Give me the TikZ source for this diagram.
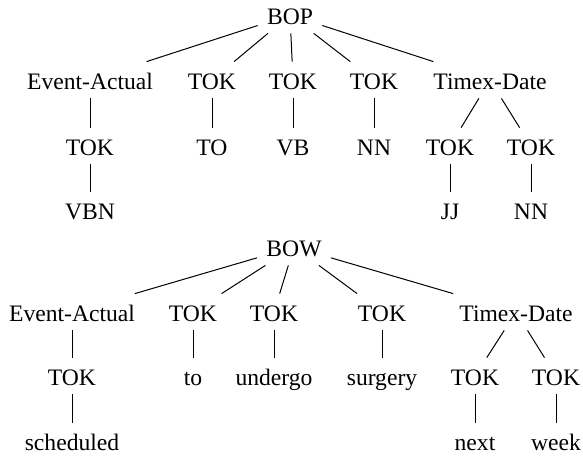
\documentclass[tikz,border=0pt]{standalone}
\usepackage{fontspec}
\setmainfont{Liberation Serif}
\newfontfamily\tagfont{Liberation Serif}
\usepackage{tikz}
\tikzset{
  tag/.style={font=\tagfont\fontsize{11.8}{13}\selectfont, inner sep=0pt, inner xsep=4.5pt,
    text height=13.5pt, text depth=4.5pt, anchor=base},
  branch/.style={line width=0.5pt, black},
}

\begin{document}
\begin{tikzpicture}[x=0.5pt, y=-0.5pt]
\useasboundingbox (0,0) rectangle (583,456);
% upper tree (parts of speech)
\node[tag] (bop) at (290,24) {BOP};
\node[tag] (ea1) at (90,89) {Event-Actual};
\node[tag] (tokA1) at (212,89) {TOK};
\node[tag] (tokB1) at (293,89) {TOK};
\node[tag] (tokC1) at (374,89) {TOK};
\node[tag] (tx1) at (490,89) {Timex-Date};
\node[tag] (eaTok1) at (90,155) {TOK};
\node[tag] (to1) at (212,155) {TO};
\node[tag] (vb1) at (293,155) {VB};
\node[tag] (nn1) at (374,155) {NN};
\node[tag] (txTokA1) at (450,155) {TOK};
\node[tag] (txTokB1) at (531,155) {TOK};
\node[tag] (vbn1) at (90,219) {VBN};
\node[tag] (jj1) at (450,219) {JJ};
\node[tag] (nnB1) at (531,219) {NN};
% lower tree (words)
\node[tag] (bow) at (294,256) {BOW};
\node[tag] (ea2) at (72,321) {Event-Actual};
\node[tag] (tokA2) at (193,321) {TOK};
\node[tag] (tokB2) at (274,321) {TOK};
\node[tag] (tokC2) at (382,321) {TOK};
\node[tag] (tx2) at (516,321) {Timex-Date};
\node[tag] (eaTok2) at (72,385) {TOK};
\node[tag] (to2) at (193,385) {to};
\node[tag] (undergo2) at (274,385) {undergo};
\node[tag] (surgery2) at (382,385) {surgery};
\node[tag] (txTokA2) at (475,385) {TOK};
\node[tag] (txTokB2) at (556,385) {TOK};
\node[tag] (sched2) at (72,450) {scheduled};
\node[tag] (next2) at (475,450) {next};
\node[tag] (week2) at (556,450) {week};
\foreach \u/\v in {bop/ea1,bop/tokA1,bop/tokB1,bop/tokC1,bop/tx1,ea1/eaTok1,tokA1/to1,tokB1/vb1,tokC1/nn1,
  tx1/txTokA1,tx1/txTokB1,eaTok1/vbn1,txTokA1/jj1,txTokB1/nnB1} \draw[branch] (\u) -- (\v);
\foreach \u/\v in {bow/ea2,bow/tokA2,bow/tokB2,bow/tokC2,bow/tx2,ea2/eaTok2,tokA2/to2,tokB2/undergo2,tokC2/surgery2,
  tx2/txTokA2,tx2/txTokB2,eaTok2/sched2,txTokA2/next2,txTokB2/week2} \draw[branch] (\u) -- (\v);
\end{tikzpicture}
\end{document}
